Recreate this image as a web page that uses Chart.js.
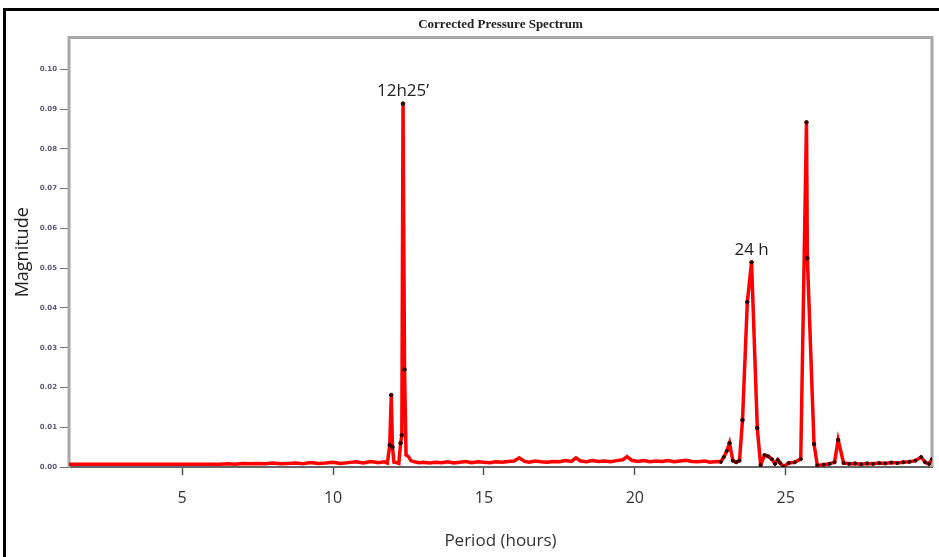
<!DOCTYPE html>
<html>
<head>
<meta charset="utf-8">
<script src="https://cdn.jsdelivr.net/npm/chart.js@4.4.1/dist/chart.umd.min.js"></script>
<style>
  html, body { margin: 0; padding: 0; background: #fff; }
  #wrap { position: relative; width: 939px; height: 557px; overflow: hidden; }
  #frame { position: absolute; left: 3px; top: 8px; width: 960px; height: 600px;
           border-left: 3px solid #000; border-top: 3px solid #000; pointer-events: none; }
  canvas { position: absolute; left: 0; top: 0; }
</style>
</head>
<body>
<div id="wrap">
  <canvas id="c" width="939" height="557"></canvas>
  <div id="frame"></div>
</div>
<script>
const titleText = "Corrected Pressure Spectrum";
const xTitle = "Period (hours)";
const yTitle = "Magnitude";

const xTicks = [5, 10, 15, 20, 25];
const yTicks = [0, 0.01, 0.02, 0.03, 0.04, 0.05, 0.06, 0.07, 0.08, 0.09, 0.10];

const period = [
  1.25,1.5,1.75,2,2.25,2.5,2.75,3,3.25,3.5,
  3.75,4,4.25,4.5,4.75,5,5.25,5.5,5.75,6,
  6.25,6.5,6.75,7,7.25,7.5,7.75,8,8.25,8.5,
  8.75,9,9.25,9.5,9.75,10,10.25,10.5,10.75,11,
  11.25,11.5,11.7,11.8,11.88,11.93,11.97,12.02,12.1,12.18,
  12.24,12.28,12.32,12.37,12.42,12.5,12.58,12.7,12.85,13,
  13.2,13.4,13.6,13.8,14,14.2,14.4,14.6,14.8,15,
  15.2,15.4,15.6,15.8,16,16.17,16.35,16.5,16.7,16.9,
  17.1,17.3,17.5,17.7,17.9,18.05,18.2,18.4,18.6,18.8,
  19,19.2,19.4,19.6,19.74,19.9,20.1,20.3,20.5,20.7,
  20.9,21.1,21.3,21.5,21.7,21.9,22.1,22.3,22.5,22.7,
  22.85,22.95,23.05,23.14,23.25,23.36,23.47,23.57,23.73,23.87,
  24.06,24.17,24.3,24.42,24.54,24.65,24.74,24.82,24.93,25.1,
  25.3,25.5,25.69,25.72,25.94,26.05,26.26,26.45,26.62,26.74,
  26.92,27.1,27.3,27.5,27.7,27.9,28.1,28.3,28.5,28.7,
  28.9,29.1,29.3,29.49,29.62,29.75,29.85
];

const magnitude = [
  0.0007,0.0007,0.0007,0.0007,0.0007,0.0007,0.0007,0.0007,0.0007,0.0007,
  0.0007,0.0007,0.0007,0.0007,0.0007,0.0007,0.0007,0.0007,0.0007,0.0007,
  0.0007,0.0008,0.0007,0.0009,0.0008,0.0009,0.0008,0.0010,0.0008,0.0009,
  0.0010,0.0008,0.0011,0.0009,0.0010,0.0012,0.0009,0.0011,0.0013,0.0010,
  0.0014,0.0011,0.0013,0.0010,0.0055,0.0181,0.0050,0.0012,0.0011,0.0009,
  0.0060,0.0080,0.0914,0.0245,0.0030,0.0026,0.0016,0.0013,0.0011,0.0012,
  0.0010,0.0012,0.0011,0.0013,0.0010,0.0012,0.0014,0.0011,0.0013,0.0012,
  0.0011,0.0013,0.0012,0.0014,0.0015,0.0023,0.0014,0.0012,0.0015,0.0013,
  0.0012,0.0014,0.0013,0.0016,0.0014,0.0023,0.0015,0.0013,0.0016,0.0014,
  0.0015,0.0013,0.0016,0.0018,0.0026,0.0017,0.0014,0.0016,0.0013,0.0015,
  0.0014,0.0016,0.0013,0.0015,0.0017,0.0014,0.0013,0.0015,0.0012,0.0014,
  0.0013,0.0025,0.0040,0.0060,0.0016,0.0012,0.0016,0.0118,0.0415,0.0515,
  0.0098,0.0005,0.0030,0.0027,0.0020,0.0008,0.0018,0.0010,0.0001,0.0010,
  0.0012,0.0020,0.0867,0.0525,0.0058,0.0004,0.0006,0.0008,0.0012,0.0068,
  0.0010,0.0008,0.0009,0.0007,0.0009,0.0008,0.0010,0.0009,0.0011,0.0010,
  0.0012,0.0013,0.0016,0.0025,0.0012,0.0008,0.0020
];

const peakLabels = ["12h25\u2019", "24 h"];
const peakPeriods = [12.32, 23.87];
const peakValues = [0.0914, 0.0515];

const points = period.map((p, i) => ({ x: p, y: magnitude[i] }));

const framePlugin = {
  id: 'frame',
  beforeDatasetsDraw(chart) {
    const { ctx, chartArea: a } = chart;
    ctx.save();
    ctx.strokeStyle = '#a8a8a8';
    ctx.lineWidth = 3;
    ctx.beginPath();
    ctx.moveTo(a.left, a.bottom);
    ctx.lineTo(a.left, a.top);
    ctx.lineTo(a.right, a.top);
    ctx.lineTo(a.right, a.bottom);
    ctx.stroke();
    ctx.restore();
  },
  afterDraw(chart) {
    const { ctx, scales } = chart;
    ctx.save();
    ctx.fillStyle = '#222';
    ctx.font = '17px "Open Sans", sans-serif';
    ctx.textAlign = 'center';
    ctx.textBaseline = 'bottom';
    peakLabels.forEach((t, i) => {
      const px = scales.x.getPixelForValue(peakPeriods[i]);
      const py = scales.y.getPixelForValue(peakValues[i]);
      ctx.fillText(t, px, py - 4);
    });
    ctx.restore();
  }
};

function markerRadius(ctx) {
  const r = ctx.raw;
  if (!r) return 0;
  if (r.y > 0.004) return 1.8;
  if (r.x > 22.8) return 1.6;
  return 0;
}

new Chart(document.getElementById('c'), {
  type: 'line',
  data: {
    datasets: [{
      data: points,
      borderColor: '#ff0000',
      borderWidth: 3.5,
      tension: 0,
      pointRadius: markerRadius,
      pointBackgroundColor: '#3a0000',
      pointBorderColor: '#3a0000',
      pointBorderWidth: 1,
      fill: false
    }]
  },
  options: {
    responsive: false,
    animation: false,
    layout: { padding: { left: 0, right: 7, top: 0, bottom: 0 } },
    plugins: {
      legend: { display: false },
      tooltip: { enabled: false },
      title: {
        display: true,
        text: titleText,
        fullSize: false,
        color: '#222',
        font: { family: '"Liberation Serif", "Times New Roman", serif', size: 13, weight: 'bold' },
        padding: { top: 17, bottom: 5 }
      }
    },
    scales: {
      x: {
        type: 'linear',
        min: 1.25,
        max: 29.85,
        afterBuildTicks: s => { s.ticks = xTicks.map(v => ({ value: v })); },
        afterFit: s => { s.height = 90; },
        grid: { drawOnChartArea: false, tickLength: 8, color: '#555', tickWidth: 1.5 },
        border: { display: true, color: '#666', width: 2 },
        ticks: {
          color: '#333',
          padding: 14,
          font: { family: '"Open Sans", sans-serif', size: 16 }
        },
        title: {
          display: true,
          text: xTitle,
          color: '#333',
          font: { family: '"Open Sans", sans-serif', size: 17 },
          padding: { top: 0, bottom: 6 }
        }
      },
      y: {
        type: 'linear',
        min: 0,
        max: 0.108,
        afterBuildTicks: s => { s.ticks = yTicks.map(v => ({ value: v })); },
        afterFit: s => { s.width = 69; },
        grid: { drawOnChartArea: false, tickLength: 9, color: '#777' },
        border: { display: true, color: '#a0a0a0', width: 2 },
        ticks: {
          color: '#5a5a7a',
          padding: 3,
          font: { family: '"DejaVu Sans", sans-serif', size: 7, weight: 'bold' },
          callback: v => Number(v).toFixed(2)
        },
        title: {
          display: true,
          text: yTitle,
          color: '#222',
          font: { family: '"Open Sans", sans-serif', size: 18 },
          padding: { top: 12, bottom: 0 }
        }
      }
    }
  },
  plugins: [framePlugin]
});
</script>
</body>
</html>
